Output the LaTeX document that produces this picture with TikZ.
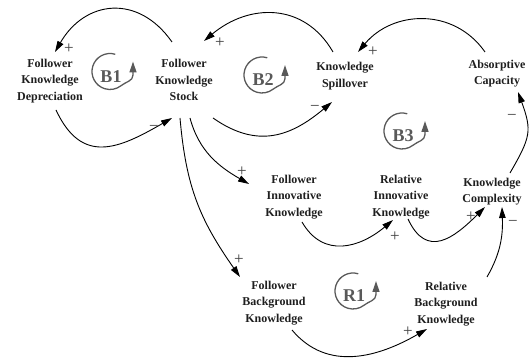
\documentclass[tikz,border=0pt]{standalone}
\usepackage{fontspec}
\setmainfont{Liberation Serif}
\usetikzlibrary{arrows.meta}
\begin{document}
\begin{tikzpicture}[x=1pt,y=1pt,
 var/.style={font=\fontsize{12}{16.5}\selectfont\bfseries, align=center, inner sep=0pt, text=black!88},
 arr/.style={line width=0.9pt, -{Triangle[length=11pt,width=6.5pt]}},
 sgn/.style={font=\fontsize{17}{17}\selectfont, text=black!75, inner sep=0pt},
 lp/.style={font=\fontsize{18}{18}\selectfont\bfseries, text=black!65, inner sep=0pt},
 lparc/.style={draw=black!65, line width=1.3pt, -{Triangle[length=11pt,width=7pt]}}]
\useasboundingbox (0,0) rectangle (530,358);
% variables
\node[var] (FKD) at (50,277) {Follower\\Knowledge\\Depreciation};
\node[var] (FKS) at (184,278) {Follower\\Knowledge\\Stock};
\node[var] (KS) at (345,282) {Knowledge\\Spillover};
\node[var] (AC) at (497,284.5) {Absorptive\\Capacity};
\node[var] (FIK) at (294,161) {Follower\\Innovative\\Knowledge};
\node[var] (RIK) at (401,161) {Relative\\Innovative\\Knowledge};
\node[var] (KC) at (492,166.5) {Knowledge\\Complexity};
\node[var] (FBK) at (274,55) {Follower\\Background\\Knowledge};
\node[var] (RBK) at (446,54) {Relative\\Background\\Knowledge};
% loop markers
\node[lp] (B1) at (111,281.5) {B1};
\node[lp] (B2) at (263,278) {B2};
\node[lp] (B3) at (403,222) {B3};
\node[lp] (R1) at (354,62) {R1};
\draw[lparc] (110,286.5) ++(73:18) arc (73:308:18) to[out=40,in=-90] (133,283) -- (133,296.5);
\draw[lparc] (262,283) ++(73:18) arc (73:308:18) to[out=40,in=-90] (285,279.5) -- (285,293);
\draw[lparc] (402,227) ++(73:18) arc (73:308:18) to[out=40,in=-90] (425,223.5) -- (425,237);
\draw[lparc] (353,67) ++(73:18) arc (73:308:18) to[out=40,in=-90] (376,63.5) -- (376,77);
% connectors
\draw[arr] ([shift={(-12,38)}]FKS.center) to[out=125,in=60,looseness=1.3] ([shift={(5,29)}]FKD.center);
\draw[arr] ([shift={(6,-29)}]FKD.center) to[out=-65,in=210,looseness=1.35] ([shift={(-12,-38)}]FKS.center);
\draw[arr] ([shift={(-12,24)}]KS.center) to[out=120,in=40,looseness=1.15] ([shift={(20,39)}]FKS.center);
\draw[arr] ([shift={(29,-38)}]FKS.center) to[out=-35,in=220,looseness=1.15] ([shift={(-13,-26)}]KS.center);
\draw[arr] ([shift={(-12,21.5)}]AC.center) to[out=125,in=50,looseness=1.1] ([shift={(13,24)}]KS.center);
\draw[arr] ([shift={(18,18.5)}]KC.center) to[out=60,in=-70,looseness=1.3] ([shift={(21,-18.5)}]AC.center);
\draw[arr] ([shift={(6,-38)}]FKS.center) to[out=-75,in=150] ([shift={(-45,13)}]FIK.center);
\draw[arr] ([shift={(-4,-38)}]FKS.center) to[out=-85,in=125,looseness=1.05] ([shift={(-34,26)}]FBK.center);
\draw[arr] ([shift={(8,-25)}]FIK.center) to[out=-60,in=220,looseness=1.2] ([shift={(-8,-23)}]RIK.center);
\draw[arr] ([shift={(7,-22)}]RIK.center) to[out=-65,in=225,looseness=1.45] ([shift={(-7,-15.5)}]KC.center);
\draw[arr] ([shift={(18,-27)}]FBK.center) to[out=-50,in=210,looseness=1.05] ([shift={(-19,-25)}]RBK.center);
\draw[arr] ([shift={(41,27)}]RBK.center) to[out=60,in=-88] ([shift={(10,-15.5)}]KC.center);
% polarity signs
\node[sgn] (s1) at (69,309) {+};
\node[sgn] (s2) at (154,230) {−};
\node[sgn] (s3) at (220,315) {+};
\node[sgn] (s4) at (315,250) {−};
\node[sgn] (s5) at (373,306) {+};
\node[sgn] (s6) at (512,241) {−};
\node[sgn] (s7) at (242,186) {+};
\node[sgn] (s8) at (239,98) {+};
\node[sgn] (s9) at (395,121) {+};
\node[sgn] (s10) at (471,141) {+};
\node[sgn] (s11) at (513,135) {−};
\node[sgn] (s12) at (408,26) {+};
\end{tikzpicture}
\end{document}
